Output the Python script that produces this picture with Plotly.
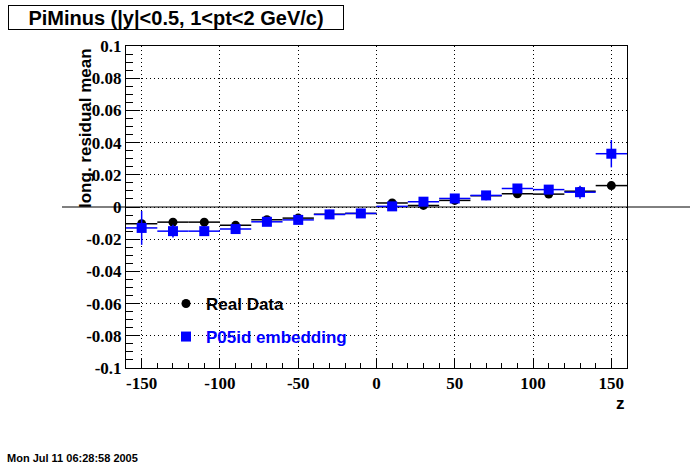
import plotly.graph_objects as go

# ---- data ----
z_bins = [-150, -130, -110, -90, -70, -50, -30, -10, 10, 30, 50, 70, 90, 110, 130, 150]
bin_half_width = 10
real_mean = [-0.0104, -0.0094, -0.0094, -0.0114, -0.0079, -0.0069, -0.0045, -0.0040,
             0.0025, 0.0010, 0.0041, 0.0070, 0.0082, 0.0080, 0.0098, 0.0133]
real_err = [0.0015, 0.0015, 0.0015, 0.0015, 0.0012, 0.0012, 0.0010, 0.0010,
            0.0015, 0.0012, 0.0012, 0.0010, 0.0012, 0.0012, 0.0020, 0.0015]
emb_mean = [-0.0130, -0.0150, -0.0150, -0.0137, -0.0092, -0.0080, -0.0046, -0.0040,
            0.0004, 0.0033, 0.0053, 0.0072, 0.0115, 0.0108, 0.0092, 0.0331]
emb_err = [0.0105, 0.0040, 0.0030, 0.0015, 0.0012, 0.0012, 0.0010, 0.0010,
           0.0010, 0.0010, 0.0010, 0.0010, 0.0012, 0.0012, 0.0040, 0.0085]

x_range = [-160, 160]
y_range = [-0.1, 0.1]
x_ticks = [-150, -100, -50, 0, 50, 100, 150]
x_ticktext = ["-150", "-100", "-50", "0", "50", "100", "150"]
y_ticks = [0.1, 0.08, 0.06, 0.04, 0.02, 0, -0.02, -0.04, -0.06, -0.08, -0.1]
y_ticktext = ["0.1", "0.08", "0.06", "0.04", "0.02", "0", "-0.02", "-0.04", "-0.06", "-0.08", "-0.1"]

title_text = "PiMinus (|y|&lt;0.5, 1&lt;pt&lt;2 GeV/c)"
date_text = "Mon Jul 11 06:28:58 2005"

# ---- geometry (page pixels; body margin removed by post_script) ----
W, H = 696, 468
frame_left, frame_right, frame_top, frame_bottom = 126, 627, 46, 368
L, T = frame_left, frame_top
R, B = W - frame_right, H - frame_bottom
pw, ph = W - L - R, H - T - B

def px_x(p):
    return (p - frame_left) / pw

def px_y(p):
    return (frame_bottom - p) / ph

sans = "Liberation Sans"
serif = "Liberation Serif"

fig = go.Figure()
fig.add_trace(go.Scatter(
    x=z_bins, y=real_mean, mode="markers", name="<b>Real Data</b>",
    marker=dict(symbol="circle", size=9, color="black"),
    error_x=dict(type="constant", value=bin_half_width, color="black", thickness=1.5, width=0),
    error_y=dict(type="data", array=real_err, color="black", thickness=1.5, width=0),
    legend="legend",
))
fig.add_trace(go.Scatter(
    x=z_bins, y=emb_mean, mode="markers",
    name="<b><span style='color:#0000ff'>P05id embedding</span></b>",
    marker=dict(symbol="square", size=10, color="#0000ff"),
    error_x=dict(type="constant", value=bin_half_width, color="#0000ff", thickness=1.5, width=0),
    error_y=dict(type="data", array=emb_err, color="#0000ff", thickness=1.5, width=0),
    legend="legend2",
))

axis_common = dict(
    showline=True, linecolor="black", linewidth=1, mirror=True,
    ticks="inside", tickcolor="black", tickwidth=1,
    showgrid=True, gridcolor="black", gridwidth=1, griddash="1px,3px",
    zeroline=False,
    tickfont=dict(family=serif, size=17, color="black", weight="bold"),
)

fig.update_layout(
    width=W, height=H, autosize=False,
    margin=dict(l=L, r=R, t=T, b=B),
    paper_bgcolor="white", plot_bgcolor="white",
    showlegend=True,
    xaxis=dict(range=x_range, tickvals=x_ticks,
               ticktext=["<b>" + t + "</b>" for t in x_ticktext], ticklen=10,
               minor=dict(dtick=10, ticklen=5, ticks="inside", tickcolor="black", showgrid=False),
               **axis_common),
    yaxis=dict(range=y_range, tickvals=y_ticks,
               ticktext=["<b>" + t + "</b>" for t in y_ticktext], ticklen=14,
               minor=dict(dtick=0.005, ticklen=7, ticks="inside", tickcolor="black", showgrid=False),
               **axis_common),
    legend=dict(x=px_x(166), y=px_y(304), xanchor="left", yanchor="middle",
                bgcolor="rgba(0,0,0,0)", borderwidth=0,
                font=dict(family=sans, size=17, color="black")),
    legend2=dict(x=px_x(166), y=px_y(337), xanchor="left", yanchor="middle",
                 bgcolor="rgba(0,0,0,0)", borderwidth=0,
                 font=dict(family=sans, size=17, color="#0000ff")),
)

# zero reference line extending beyond the frame
y0_paper = (0 - y_range[0]) / (y_range[1] - y_range[0])
fig.add_shape(type="line", xref="paper", yref="paper",
              x0=px_x(62), x1=px_x(690), y0=y0_paper, y1=y0_paper,
              line=dict(color="black", width=1), layer="between")

# title box
fig.add_annotation(xref="paper", yref="paper", x=px_x(176), y=px_y(17.5),
                   xanchor="center", yanchor="middle", showarrow=False,
                   text="<b>" + title_text + "</b>",
                   font=dict(family=sans, size=20, color="black"),
                   bordercolor="black", borderwidth=1, borderpad=0,
                   width=334, height=23, bgcolor="white")

# y axis title
fig.add_annotation(xref="paper", yref="paper", x=px_x(85), y=px_y(128),
                   xanchor="center", yanchor="middle", showarrow=False,
                   text="<b>long. residual mean</b>", textangle=-90,
                   font=dict(family=sans, size=17, color="black"))

# x axis title
fig.add_annotation(xref="paper", yref="paper", x=px_x(620), y=px_y(403),
                   xanchor="center", yanchor="middle", showarrow=False,
                   text="<b>z</b>", font=dict(family=sans, size=17, color="black"))

# date stamp
fig.add_annotation(xref="paper", yref="paper", x=px_x(5), y=px_y(458),
                   xanchor="left", yanchor="middle", showarrow=False,
                   text="<b>" + date_text + "</b>",
                   font=dict(family=sans, size=11, color="black"))

fig.write_html("out.html", config={"displayModeBar": False},
               post_script="document.body.style.margin='0';")
